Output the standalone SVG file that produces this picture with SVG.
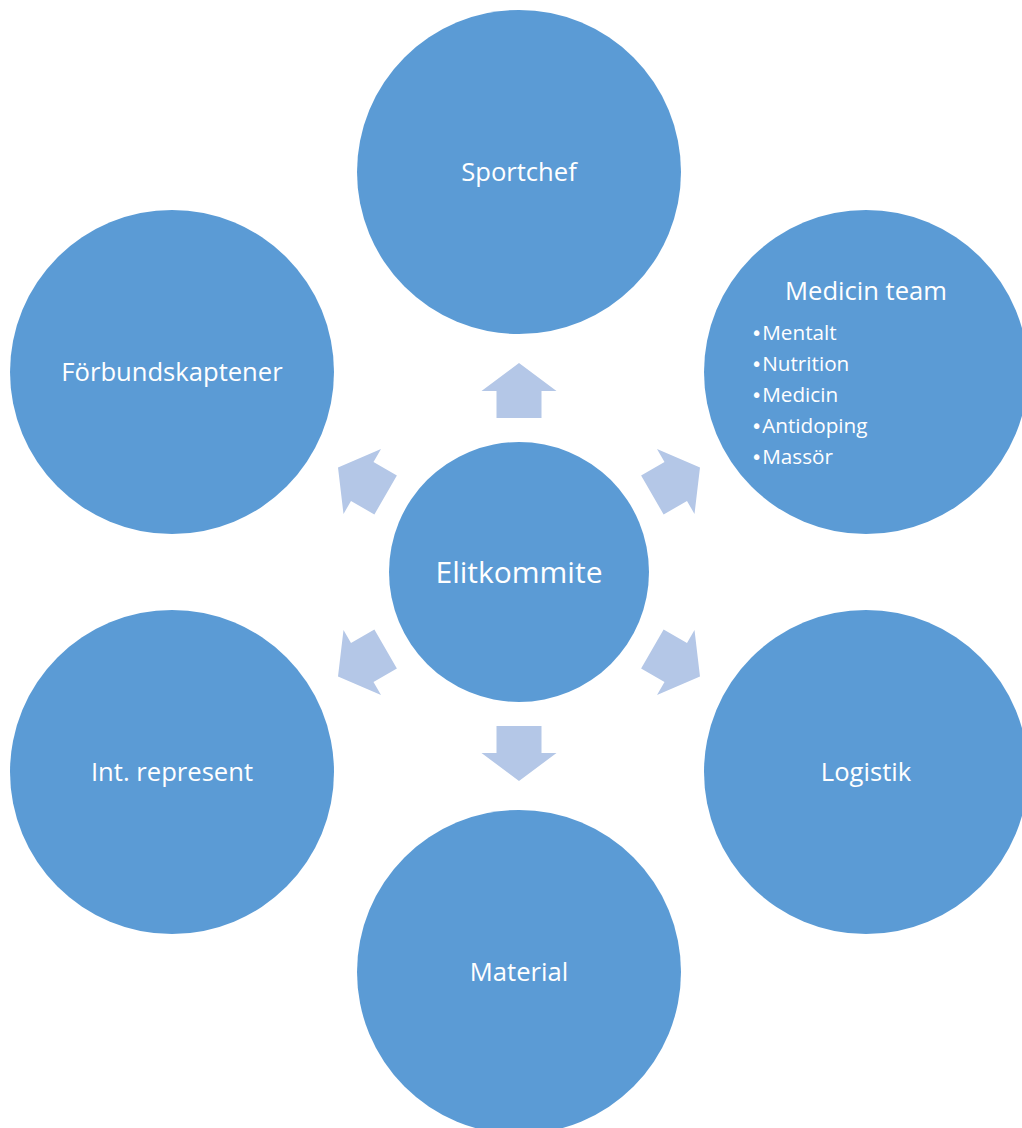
<svg xmlns="http://www.w3.org/2000/svg" width="1022" height="1128" viewBox="0 0 1022 1128">
  <defs>
    <style>
      .node { fill: #5b9bd5; }
      .arrow { fill: #b4c7e7; }
      .label { fill: #ffffff; font-family: "Open Sans", Lato, "Liberation Sans", sans-serif; text-anchor: middle; }
      .big { font-size: 25.6px; }
      .hub { font-size: 30px; }
      .item { fill: #ffffff; font-family: "Open Sans", Lato, "Liberation Sans", sans-serif; font-size: 20.7px; }
      .dot { font-family: "DejaVu Sans", sans-serif; font-size: 19px; }
    </style>
    <!-- block arrow pointing up, base at the hub centre (519,572) -->
    <path id="blockArrow" d="M 496.5 418 L 496.5 391 L 481.5 391 L 519 363 L 556.5 391 L 541.5 391 L 541.5 418 Z"/>
  </defs>
  <rect width="1022" height="1128" fill="#ffffff"/>

  <g id="connectors">
    <use href="#blockArrow" class="arrow"/>
    <use href="#blockArrow" class="arrow" transform="rotate(60 519 572)"/>
    <use href="#blockArrow" class="arrow" transform="rotate(120 519 572)"/>
    <use href="#blockArrow" class="arrow" transform="rotate(180 519 572)"/>
    <use href="#blockArrow" class="arrow" transform="rotate(240 519 572)"/>
    <use href="#blockArrow" class="arrow" transform="rotate(300 519 572)"/>
  </g>

  <g id="elitkommite">
    <circle class="node" cx="519" cy="572" r="130"/>
    <text class="label hub" x="519" y="583">Elitkommite</text>
  </g>

  <g id="sportchef">
    <circle class="node" cx="519" cy="172" r="162"/>
    <text class="label big" x="519" y="181">Sportchef</text>
  </g>

  <g id="medicin-team">
    <circle class="node" cx="866" cy="372" r="162"/>
    <text class="label big" x="866" y="300">Medicin team</text>
    <text class="item" x="751" y="340"><tspan class="dot">•</tspan>Mentalt</text>
    <text class="item" x="751" y="371"><tspan class="dot">•</tspan>Nutrition</text>
    <text class="item" x="751" y="402"><tspan class="dot">•</tspan>Medicin</text>
    <text class="item" x="751" y="433"><tspan class="dot">•</tspan>Antidoping</text>
    <text class="item" x="751" y="464"><tspan class="dot">•</tspan>Massör</text>
  </g>

  <g id="logistik">
    <circle class="node" cx="866" cy="772" r="162"/>
    <text class="label big" x="866" y="781">Logistik</text>
  </g>

  <g id="material">
    <circle class="node" cx="519" cy="972" r="162"/>
    <text class="label big" x="519" y="981">Material</text>
  </g>

  <g id="int-represent">
    <circle class="node" cx="172" cy="772" r="162"/>
    <text class="label big" x="172" y="781">Int. represent</text>
  </g>

  <g id="forbundskaptener">
    <circle class="node" cx="172" cy="372" r="162"/>
    <text class="label big" x="172" y="381">Förbundskaptener</text>
  </g>
</svg>
